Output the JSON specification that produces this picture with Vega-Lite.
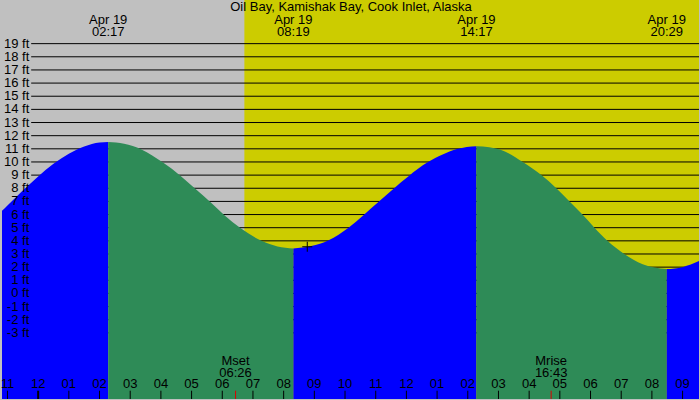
{
  "$schema": "https://vega.github.io/schema/vega-lite/v6.json",
  "autosize": {"type": "fit", "contains": "padding"},
  "width": 700,
  "height": 400,
  "padding": 0,
  "background": "#c0c0c0",
  "config": {"view": {"stroke": null}, "mark": {"font": "Liberation Sans", "fontSize": 13}},
  "datasets": {
    "sky": [
      {"h": -1.178, "h2": 6.72, "kind": "night"},
      {"h": 6.72, "h2": 21.535, "kind": "day"}
    ],
    "grid": [
      {"ft": -3, "lbl": "-3 ft"}, {"ft": -2, "lbl": "-2 ft"}, {"ft": -1, "lbl": "-1 ft"}, {"ft": 0, "lbl": "0 ft"},
      {"ft": 1, "lbl": "1 ft"}, {"ft": 2, "lbl": "2 ft"}, {"ft": 3, "lbl": "3 ft"}, {"ft": 4, "lbl": "4 ft"},
      {"ft": 5, "lbl": "5 ft"}, {"ft": 6, "lbl": "6 ft"}, {"ft": 7, "lbl": "7 ft"}, {"ft": 8, "lbl": "8 ft"},
      {"ft": 9, "lbl": "9 ft"}, {"ft": 10, "lbl": "10 ft"}, {"ft": 11, "lbl": "11 ft"}, {"ft": 12, "lbl": "12 ft"},
      {"ft": 13, "lbl": "13 ft"}, {"ft": 14, "lbl": "14 ft"}, {"ft": 15, "lbl": "15 ft"}, {"ft": 16, "lbl": "16 ft"},
      {"ft": 17, "lbl": "17 ft"}, {"ft": 18, "lbl": "18 ft"}, {"ft": 19, "lbl": "19 ft"}
    ],
    "tide": [
      {"h": -1.178, "ft": 6.28, "seg": "A", "dir": "rise"},
      {"h": -1.0, "ft": 6.68, "seg": "A", "dir": "rise"},
      {"h": -0.5, "ft": 7.83, "seg": "A", "dir": "rise"},
      {"h": 0.0, "ft": 8.9, "seg": "A", "dir": "rise"},
      {"h": 0.5, "ft": 9.86, "seg": "A", "dir": "rise"},
      {"h": 1.0, "ft": 10.63, "seg": "A", "dir": "rise"},
      {"h": 1.5, "ft": 11.18, "seg": "A", "dir": "rise"},
      {"h": 2.0, "ft": 11.48, "seg": "A", "dir": "rise"},
      {"h": 2.283, "ft": 11.52, "seg": "A", "dir": "rise"},
      {"h": 2.283, "ft": 11.52, "seg": "B", "dir": "fall"},
      {"h": 2.8, "ft": 11.38, "seg": "B", "dir": "fall"},
      {"h": 3.365, "ft": 10.95, "seg": "B", "dir": "fall"},
      {"h": 4.069, "ft": 9.95, "seg": "B", "dir": "fall"},
      {"h": 4.663, "ft": 8.9, "seg": "B", "dir": "fall"},
      {"h": 5.149, "ft": 7.9, "seg": "B", "dir": "fall"},
      {"h": 5.636, "ft": 6.9, "seg": "B", "dir": "fall"},
      {"h": 6.07, "ft": 5.95, "seg": "B", "dir": "fall"},
      {"h": 6.59, "ft": 4.97, "seg": "B", "dir": "fall"},
      {"h": 7.28, "ft": 4.0, "seg": "B", "dir": "fall"},
      {"h": 7.8, "ft": 3.57, "seg": "B", "dir": "fall"},
      {"h": 8.317, "ft": 3.42, "seg": "B", "dir": "fall"},
      {"h": 8.317, "ft": 3.42, "seg": "C", "dir": "rise"},
      {"h": 8.9, "ft": 3.6, "seg": "C", "dir": "rise"},
      {"h": 9.465, "ft": 4.05, "seg": "C", "dir": "rise"},
      {"h": 10.114, "ft": 5.0, "seg": "C", "dir": "rise"},
      {"h": 10.6, "ft": 5.95, "seg": "C", "dir": "rise"},
      {"h": 11.087, "ft": 6.95, "seg": "C", "dir": "rise"},
      {"h": 11.573, "ft": 7.95, "seg": "C", "dir": "rise"},
      {"h": 12.06, "ft": 8.9, "seg": "C", "dir": "rise"},
      {"h": 12.677, "ft": 9.95, "seg": "C", "dir": "rise"},
      {"h": 13.2, "ft": 10.58, "seg": "C", "dir": "rise"},
      {"h": 13.65, "ft": 10.98, "seg": "C", "dir": "rise"},
      {"h": 14.283, "ft": 11.19, "seg": "C", "dir": "rise"},
      {"h": 14.283, "ft": 11.19, "seg": "D", "dir": "fall"},
      {"h": 14.7, "ft": 11.12, "seg": "D", "dir": "fall"},
      {"h": 15.046, "ft": 10.95, "seg": "D", "dir": "fall"},
      {"h": 15.792, "ft": 10.0, "seg": "D", "dir": "fall"},
      {"h": 16.398, "ft": 9.0, "seg": "D", "dir": "fall"},
      {"h": 16.885, "ft": 8.0, "seg": "D", "dir": "fall"},
      {"h": 17.317, "ft": 7.0, "seg": "D", "dir": "fall"},
      {"h": 17.738, "ft": 6.0, "seg": "D", "dir": "fall"},
      {"h": 18.128, "ft": 5.0, "seg": "D", "dir": "fall"},
      {"h": 18.55, "ft": 4.0, "seg": "D", "dir": "fall"},
      {"h": 19.1, "ft": 3.0, "seg": "D", "dir": "fall"},
      {"h": 19.7, "ft": 2.22, "seg": "D", "dir": "fall"},
      {"h": 20.483, "ft": 1.85, "seg": "D", "dir": "fall"},
      {"h": 20.483, "ft": 1.85, "seg": "E", "dir": "rise"},
      {"h": 21.0, "ft": 2.0, "seg": "E", "dir": "rise"},
      {"h": 21.535, "ft": 2.46, "seg": "E", "dir": "rise"}
    ],
    "events": [
      {"h": 2.283, "d": "Apr 19", "t": "02:17"},
      {"h": 8.317, "d": "Apr 19", "t": "08:19"},
      {"h": 14.283, "d": "Apr 19", "t": "14:17"},
      {"h": 20.483, "d": "Apr 19", "t": "20:29"}
    ],
    "hours": [
      {"h": -1, "lbl": "11"}, {"h": 0, "lbl": "12"}, {"h": 1, "lbl": "01"}, {"h": 2, "lbl": "02"},
      {"h": 3, "lbl": "03"}, {"h": 4, "lbl": "04"}, {"h": 5, "lbl": "05"}, {"h": 6, "lbl": "06"},
      {"h": 7, "lbl": "07"}, {"h": 8, "lbl": "08"}, {"h": 9, "lbl": "09"}, {"h": 10, "lbl": "10"},
      {"h": 11, "lbl": "11"}, {"h": 12, "lbl": "12"}, {"h": 13, "lbl": "01"}, {"h": 14, "lbl": "02"},
      {"h": 15, "lbl": "03"}, {"h": 16, "lbl": "04"}, {"h": 17, "lbl": "05"}, {"h": 18, "lbl": "06"},
      {"h": 19, "lbl": "07"}, {"h": 20, "lbl": "08"}, {"h": 21, "lbl": "09"}
    ],
    "moon": [
      {"h": 6.433, "name": "Mset", "t": "06:26"},
      {"h": 16.717, "name": "Mrise", "t": "16:43"}
    ],
    "cross": [{"h": 8.77, "ft": 3.55}],
    "title": [{"h": 10.195, "name": "Oil Bay, Kamishak Bay, Cook Inlet, Alaska"}]
  },
  "layer": [
    {
      "data": {"name": "sky"},
      "mark": {"type": "rect"},
      "encoding": {
        "x": {"field": "h", "type": "quantitative", "axis": null, "scale": {"domain": [-1.178, 21.535], "nice": false, "zero": false}},
        "x2": {"field": "h2"},
        "color": {"field": "kind", "type": "nominal", "legend": null, "scale": {"domain": ["night", "day", "rise", "fall"], "range": ["#c0c0c0", "#cccc00", "#0000ff", "#2e8b57"]}}
      }
    },
    {
      "data": {"name": "grid"},
      "mark": {"type": "rule", "color": "#000000", "strokeWidth": 1},
      "encoding": {
        "y": {"field": "ft", "type": "quantitative", "axis": null, "scale": {"domain": [-8.03, 22.32], "nice": false, "zero": false}},
        "x": {"datum": -0.227, "type": "quantitative"},
        "x2": {"datum": 21.535}
      }
    },
    {
      "data": {"name": "tide"},
      "mark": {"type": "area", "interpolate": "monotone", "opacity": 1},
      "encoding": {
        "x": {"field": "h", "type": "quantitative"},
        "y": {"field": "ft", "type": "quantitative"},
        "y2": {"datum": -8.03},
        "color": {"field": "dir", "type": "nominal", "legend": null},
        "detail": {"field": "seg"}
      }
    },
    {
      "data": {"name": "grid"},
      "mark": {"type": "text", "align": "right", "baseline": "middle", "font": "Liberation Sans", "fontSize": 13, "color": "#000000"},
      "encoding": {
        "y": {"field": "ft", "type": "quantitative"},
        "x": {"datum": -0.29, "type": "quantitative"},
        "text": {"field": "lbl"}
      }
    },
    {
      "data": {"name": "events"},
      "mark": {"type": "text", "align": "center", "baseline": "middle", "font": "Liberation Sans", "fontSize": 13, "color": "#000000"},
      "encoding": {
        "x": {"field": "h", "type": "quantitative"},
        "y": {"datum": 20.8, "type": "quantitative"},
        "text": {"field": "d"}
      }
    },
    {
      "data": {"name": "events"},
      "mark": {"type": "text", "align": "center", "baseline": "middle", "font": "Liberation Sans", "fontSize": 13, "color": "#000000"},
      "encoding": {
        "x": {"field": "h", "type": "quantitative"},
        "y": {"datum": 19.9, "type": "quantitative"},
        "text": {"field": "t"}
      }
    },
    {
      "data": {"name": "hours"},
      "mark": {"type": "rule", "color": "#000000"},
      "encoding": {
        "x": {"field": "h", "type": "quantitative"},
        "y": {"datum": -7.4, "type": "quantitative"},
        "y2": {"datum": -8.03},
        "strokeWidth": {"condition": {"test": "datum.h === 0", "value": 2}, "value": 1}
      }
    },
    {
      "data": {"name": "hours"},
      "mark": {"type": "text", "align": "center", "baseline": "middle", "font": "Liberation Sans", "fontSize": 13, "color": "#000000"},
      "encoding": {
        "x": {"field": "h", "type": "quantitative"},
        "y": {"datum": -6.9, "type": "quantitative"},
        "text": {"field": "lbl"}
      }
    },
    {
      "data": {"name": "moon"},
      "mark": {"type": "rule", "color": "#dd0000", "strokeWidth": 1},
      "encoding": {
        "x": {"field": "h", "type": "quantitative"},
        "y": {"datum": -7.4, "type": "quantitative"},
        "y2": {"datum": -8.03}
      }
    },
    {
      "data": {"name": "moon"},
      "mark": {"type": "text", "align": "center", "baseline": "middle", "font": "Liberation Sans", "fontSize": 13, "color": "#000000"},
      "encoding": {
        "x": {"field": "h", "type": "quantitative"},
        "y": {"datum": -5.15, "type": "quantitative"},
        "text": {"field": "name"}
      }
    },
    {
      "data": {"name": "moon"},
      "mark": {"type": "text", "align": "center", "baseline": "middle", "font": "Liberation Sans", "fontSize": 13, "color": "#000000"},
      "encoding": {
        "x": {"field": "h", "type": "quantitative"},
        "y": {"datum": -6.02, "type": "quantitative"},
        "text": {"field": "t"}
      }
    },
    {
      "data": {"name": "cross"},
      "mark": {"type": "point", "shape": "M-1,0H1M0,-1V1", "size": 100, "stroke": "#000000", "strokeWidth": 1, "filled": false, "opacity": 1},
      "encoding": {
        "x": {"field": "h", "type": "quantitative"},
        "y": {"field": "ft", "type": "quantitative"}
      }
    },
    {
      "data": {"name": "title"},
      "mark": {"type": "text", "align": "center", "baseline": "middle", "font": "Liberation Sans", "fontSize": 13, "color": "#000000"},
      "encoding": {
        "x": {"field": "h", "type": "quantitative"},
        "y": {"datum": 21.75, "type": "quantitative"},
        "text": {"field": "name"}
      }
    }
  ]
}
